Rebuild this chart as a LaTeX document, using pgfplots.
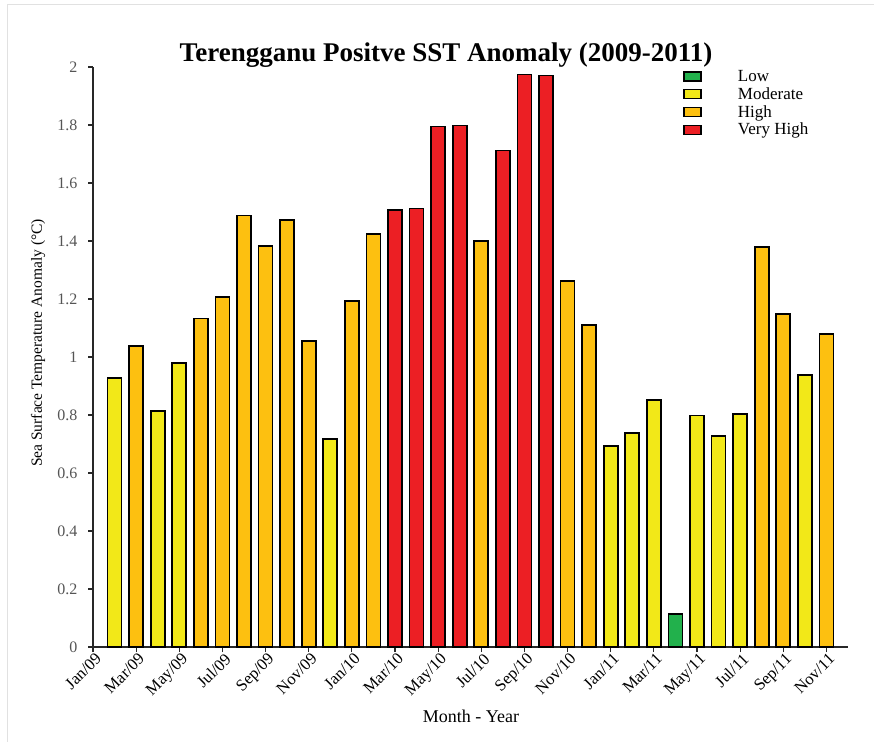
\documentclass[border=0pt]{standalone}
\usepackage{fontspec}
\setmainfont{Liberation Serif}
\usepackage{pgfplots}
\usepackage{pgfplotstable}
\pgfplotsset{compat=1.18}
\definecolor{cLow}{RGB}{34,177,76}
\definecolor{cMod}{RGB}{242,232,24}
\definecolor{cHigh}{RGB}{253,192,16}
\definecolor{cVH}{RGB}{236,31,36}
\definecolor{axgray}{RGB}{40,40,40}
\definecolor{tickgray}{RGB}{85,85,85}
\definecolor{framegray}{RGB}{225,225,225}
\pgfplotsset{
  /pgfplots/ybar legend/.style={
    /pgfplots/legend image code/.code={%
      \draw[##1, line width=1.4pt, bar shift=0pt] (0pt,-4.5pt) rectangle (17pt,4.5pt);
      \path[draw=none, fill=none] (0pt,0pt) -- (52pt,0pt);}},
}

\pgfplotstableread{
x y
27 0.113
}\lowtab
\pgfplotstableread{
x y
1 0.928
3 0.813
4 0.978
11 0.718
24 0.692
25 0.737
26 0.853
28 0.798
29 0.727
30 0.803
33 0.937
}\modtab
\pgfplotstableread{
x y
2 1.038
5 1.133
6 1.208
7 1.488
8 1.383
9 1.472
10 1.054
12 1.194
13 1.425
18 1.400
22 1.261
23 1.109
31 1.378
32 1.148
34 1.078
}\hightab
\pgfplotstableread{
x y
14 1.506
15 1.512
16 1.795
17 1.798
19 1.712
20 1.974
21 1.971
}\vhtab

\begin{document}
\begin{tikzpicture}
\useasboundingbox (0pt,0pt) rectangle (874pt,742pt);
\draw[framegray, line width=1pt] (7pt,0pt) -- (7pt,737pt) -- (874pt,737pt);
\begin{axis}[
  at={(93pt,95pt)}, anchor=south west,
  scale only axis, width=755pt, height=580pt,
  xmin=0, xmax=35, ymin=0, ymax=2,
  axis x line*=bottom, axis y line*=left,
  axis line style={-, line width=1.5pt, color=axgray},
  ybar, bar width=0.65,
  xtick={0,2,...,34},
  xticklabels={Jan/09,Mar/09,May/09,Jul/09,Sep/09,Nov/09,Jan/10,Mar/10,May/10,Jul/10,Sep/10,Nov/10,Jan/11,Mar/11,May/11,Jul/11,Sep/11,Nov/11},
  ytick={0,0.2,...,2.01},
  yticklabels={0,0.2,0.4,0.6,0.8,1,1.2,1.4,1.6,1.8,2},
  tick align=outside, major tick length=5pt,
  tick style={line width=1.2pt, color=axgray},
  /pgf/number format/assume math mode=true,
  xticklabel style={font=\fontsize{16.5}{18}\selectfont, rotate=45, anchor=north east, inner sep=1pt, xshift=2pt},
  yticklabel style={font=\fontsize{16}{18}\selectfont, text=tickgray, xshift=-7pt},
  legend style={at={(0.7815,0.998)}, anchor=north west, draw=none, fill=none,
    font=\fontsize{17}{18}\selectfont, row sep=0.5pt, inner sep=0pt},
  legend cell align=left,
]
\addplot[bar shift=0pt, fill=cLow, draw=black, line width=1.8pt] table[x=x,y=y] {\lowtab};
\addlegendentry{Low}
\addplot[bar shift=0pt, fill=cMod, draw=black, line width=1.8pt] table[x=x,y=y] {\modtab};
\addlegendentry{Moderate}
\addplot[bar shift=0pt, fill=cHigh, draw=black, line width=1.8pt] table[x=x,y=y] {\hightab};
\addlegendentry{High}
\addplot[bar shift=0pt, fill=cVH, draw=black, line width=1.8pt] table[x=x,y=y] {\vhtab};
\addlegendentry{Very High}
\end{axis}
\node[anchor=base, font=\fontsize{27}{30}\selectfont\bfseries] at (446pt,680pt) {Terengganu Positve SST Anomaly (2009-2011)};
\node[rotate=90, font=\fontsize{15.5}{17}\selectfont] at (38pt,399pt) {Sea Surface Temperature Anomaly (°C)};
\node[anchor=base, font=\fontsize{18}{20}\selectfont] at (471pt,20pt) {Month - Year};
\end{tikzpicture}
\end{document}
